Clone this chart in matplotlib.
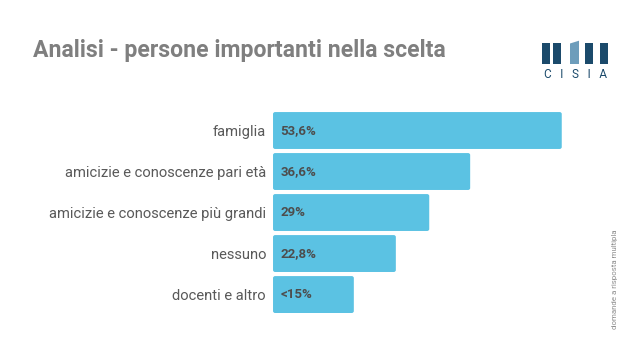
import matplotlib.pyplot as plt
from matplotlib.patches import Rectangle, Polygon, FancyBboxPatch

categories = ['famiglia', 'amicizie e conoscenze pari età', 'amicizie e conoscenze più grandi',
              'nessuno', 'docenti e altro']
values = [53.6, 36.6, 29, 22.8, 15]
labels = ['53,6%', '36,6%', '29%', '22,8%', '<15%']

plt.rcParams['font.family'] = ['Roboto', 'DejaVu Sans']

fig = plt.figure(figsize=(6.4, 3.59), dpi=100)
ax = fig.add_axes([0.4266, 0.111, 0.505, 0.594])

bar_color = '#5bc2e3'
for i, (v, lab) in enumerate(zip(values, labels)):
    ax.add_patch(FancyBboxPatch((0, i - 0.45), v, 0.9,
                                boxstyle='round,pad=0,rounding_size=0.4',
                                mutation_aspect=0.12,
                                facecolor=bar_color, edgecolor='none'))
    ax.text(1.4, i, lab, va='center', ha='left', fontsize=9.5,
            fontweight='bold', color='#4d4d4d')

ax.set_xlim(0, 60)
ax.set_ylim(4.6, -0.6)
ax.set_yticks(range(len(categories)))
ax.set_yticklabels(categories, fontsize=10.6, color='#595959')
ax.tick_params(axis='y', length=0, pad=5)
ax.set_xticks([])
for s in ax.spines.values():
    s.set_visible(False)

fig.text(0.0516, 0.858, 'Analisi - persone importanti nella scelta', fontsize=16.6,
         fontweight='bold', color='#7f7f7f', va='center', ha='left')

fig.text(0.961, 0.223, 'domande a risposta multipla', rotation=90,
         fontsize=5.7, color='#8c8c8c', va='center', ha='center')

# logo CISIA
navy = '#1b4a6b'
light = '#6d9dbb'
H = 359.0
W = 640.0
for x0 in [542, 553, 585, 600]:
    fig.patches.append(Rectangle((x0 / W, 1 - 64 / H), 8 / W, 21.5 / H,
                                 transform=fig.transFigure, facecolor=navy,
                                 edgecolor='none'))
fig.patches.append(Polygon([(570 / W, 1 - 64 / H), (579 / W, 1 - 64 / H),
                            (579 / W, 1 - 40.7 / H), (570 / W, 1 - 43.5 / H)],
                           closed=True, transform=fig.transFigure,
                           facecolor=light, edgecolor='none'))
fig.text(575.5 / W, 1 - 74 / H, 'C   I   S   I   A', fontsize=8.5, color=navy,
         ha='center', va='center')

fig.savefig('out.png', dpi=100)
